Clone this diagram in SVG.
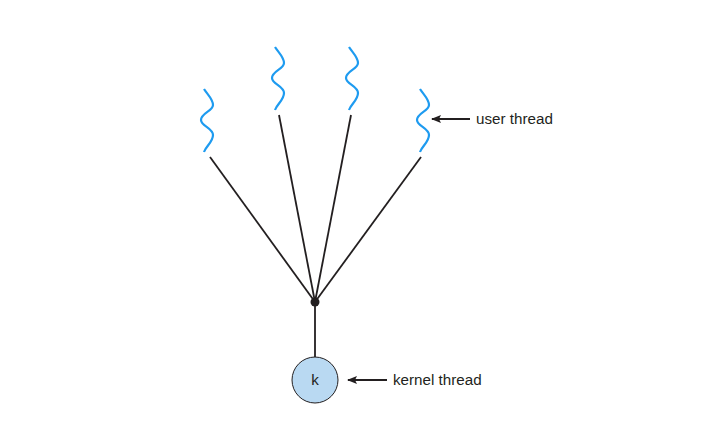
<svg xmlns="http://www.w3.org/2000/svg" width="728" height="441" viewBox="0 0 728 441">
<style>
.w{fill:none;stroke:#1e9bf0;stroke-width:2.2}
.l{stroke:#231f20;stroke-width:1.8;fill:none}
text{font-family:"Liberation Sans",Arial,sans-serif;font-size:15.2px;fill:#231f20}
</style>
<defs>
<marker id="a" markerWidth="10" markerHeight="8" refX="9" refY="4" orient="auto" markerUnits="userSpaceOnUse"><path d="M0,0L10,4L0,8L2,4Z" fill="#231f20"/></marker>
<path id="wv" d="M-3,0 C0,5 6,10 6,16 C6,22 -6,24 -6,31 C-6,37 6,39 6,46 C6,53 -1,57 -3,63"/>
</defs>
<g id="connectors">
<line class="l" x1="210" y1="157" x2="315" y2="302"/>
<line class="l" x1="279" y1="115" x2="315" y2="302"/>
<line class="l" x1="351" y1="115" x2="315" y2="302"/>
<line class="l" x1="421" y1="157" x2="315" y2="302"/>
<line class="l" x1="315" y1="302" x2="315" y2="357"/>
<line class="l" x1="470" y1="119" x2="432" y2="119" marker-end="url(#a)"/>
<line class="l" x1="387" y1="380" x2="348" y2="380" marker-end="url(#a)"/>
</g>
<g id="t1"><use href="#wv" class="w" x="207" y="89"/></g>
<g id="t2"><use href="#wv" class="w" x="278" y="47"/></g>
<g id="t3"><use href="#wv" class="w" x="352" y="47"/></g>
<g id="t4"><use href="#wv" class="w" x="423" y="89"/></g>
<g id="hub"><circle cx="315" cy="302" r="4.5" fill="#231f20"/></g>
<g id="k"><circle cx="315" cy="380" r="23" fill="#b9d9f2" stroke="#231f20" stroke-width="1"/><text x="315" y="385" text-anchor="middle">k</text></g>
<g id="lbl1"><text x="476" y="124">user thread</text></g>
<g id="lbl2"><text x="393" y="385">kernel thread</text></g>
</svg>
